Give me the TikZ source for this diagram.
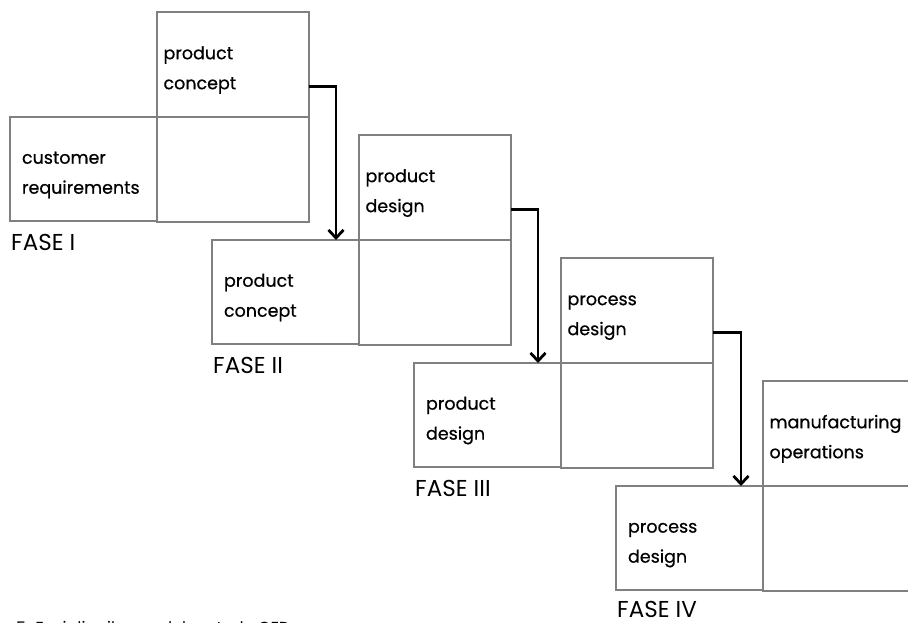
\documentclass[tikz,border=0pt]{standalone}
\usepackage{fontspec}
\setmainfont{Poppins}
\newfontfamily\cellfont{Poppins}[FakeBold=0.6]
\usetikzlibrary{arrows.meta}
\definecolor{boxgray}{RGB}{128,128,128}

\begin{document}
\begin{tikzpicture}[x=1pt,y=-1pt,
  cell/.style={draw=boxgray,line width=2.8pt,anchor=north west,inner sep=0pt,outer sep=0pt,
    align=left,text height=24pt,font=\cellfont\fontsize{17.5}{30}\selectfont},
  upper/.style={cell,minimum width=152,minimum height=105,text width=139},
  lower/.style={cell,minimum width=147,minimum height=104,text width=123},
  phase/.style={anchor=base west,inner sep=0pt,font=\fontsize{23}{23}\selectfont},
  flow/.style={line width=2.8pt,-{Straight Barb[length=8pt,width=15pt]}}]
  \useasboundingbox (0,0) rectangle (908,623);

  \node[upper] (q1) at (157,12) {product\\concept};
  \node[upper] (m1) at (157,117) {};
  \node[lower] (l1) at (10,117) {customer\\requirements};
  \node[phase] (f1) at (11,250) {FASE I};

  \node[upper] (q2) at (359,135) {product\\design};
  \node[upper] (m2) at (359,240) {};
  \node[lower] (l2) at (212,240) {product\\concept};
  \node[phase] (f2) at (213,373) {FASE II};

  \node[upper] (q3) at (561,258) {process\\design};
  \node[upper] (m3) at (561,363) {};
  \node[lower] (l3) at (414,363) {product\\design};
  \node[phase] (f3) at (415,496) {FASE III};

  \node[upper] (q4) at (763,381) {manufacturing\\operations};
  \node[upper] (m4) at (763,486) {};
  \node[lower] (l4) at (616,486) {process\\design};
  \node[phase] (f4) at (617,617) {FASE IV};

  \draw[flow] ([yshift=-22pt]q1.east) -| ([xshift=-23pt]l2.north east);
  \draw[flow] ([yshift=-22pt]q2.east) -| ([xshift=-23pt]l3.north east);
  \draw[flow] ([yshift=-22pt]q3.east) -| ([xshift=-22pt]l4.north east);

  \node[anchor=base west,inner sep=0pt,font=\fontsize{16}{16}\selectfont] (cap) at (16,633)
    {5. Fasi di sviluppo del metodo QFD};
\end{tikzpicture}
\end{document}
